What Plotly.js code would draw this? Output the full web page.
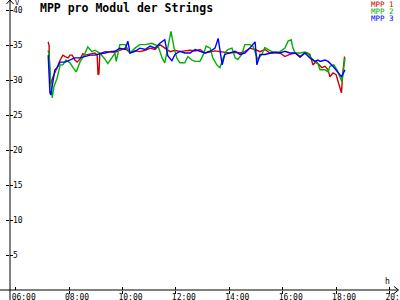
<!DOCTYPE html>
<html>
<head>
<meta charset="utf-8">
<script src="https://cdn.plot.ly/plotly-3.0.1.min.js"></script>
<style>html,body{margin:0;padding:0;background:#fff;}#chart{width:400px;height:300px;}</style>
</head>
<body>
<div id="chart"></div>
<script>
const seriesNames = ["MPP 1", "MPP 2", "MPP 3"];
const seriesColors = ["#cc0000", "#00b000", "#0000ff"];

const times1 = ["07:13","07:15","07:17","07:19","07:24","07:28","07:33","07:40","07:46","07:51","07:58","08:02","08:07","08:13","08:18","08:25","08:31","08:36","08:47","08:58","09:03","09:05","09:07","09:09","09:21","09:32","09:43","09:54","10:06","10:17","10:28","10:39","10:51","11:02","11:13","11:24","11:35","11:47","11:58","12:09","12:20","12:32","12:43","12:54","13:05","13:17","13:28","13:39","13:50","14:01","14:13","14:24","14:35","14:46","14:58","15:09","15:20","15:31","15:43","15:54","16:05","16:16","16:28","16:39","16:50","17:01","17:08","17:15","17:19","17:28","17:35","17:42","17:46","17:53","18:00","18:09","18:12","18:15","18:19"];
const mpp1 = [35.5,35.0,29.8,29.5,30.5,31.0,31.8,32.9,33.6,33.4,33.2,33.6,33.6,32.9,32.6,33.1,33.8,33.6,33.8,33.9,33.6,30.8,30.9,33.8,34.1,34.1,34.0,34.3,34.6,33.9,34.2,34.1,34.3,34.6,34.4,35.1,34.6,34.1,34.3,34.1,34.2,34.3,34.2,34.4,33.9,34.1,34.2,34.1,34.0,33.9,34.0,33.9,34.1,34.6,34.4,34.1,34.4,33.9,33.9,33.9,33.4,33.7,33.9,33.3,33.9,33.7,32.2,32.7,32.4,31.8,32.0,31.5,30.5,31.05,30.8,29.1,28.2,31.0,33.4];

const times2 = ["07:13","07:15","07:19","07:22","07:26","07:33","07:40","07:46","07:53","08:02","08:09","08:16","08:25","08:34","08:42","08:51","08:58","09:09","09:21","09:27","09:36","09:43","09:46","09:54","10:06","10:17","10:28","10:39","10:51","11:06","11:20","11:29","11:35","11:42","11:49","11:56","12:02","12:09","12:20","12:27","12:36","12:43","12:54","13:01","13:08","13:17","13:23","13:32","13:39","13:46","13:53","13:57","14:06","14:13","14:19","14:28","14:35","14:46","14:53","15:00","15:04","15:13","15:20","15:27","15:31","15:43","15:54","16:05","16:12","16:19","16:23","16:28","16:39","16:50","16:57","17:01","17:08","17:15","17:19","17:24","17:35","17:42","17:46","17:55","18:02","18:09","18:13","18:18","18:20"];
const mpp2 = [34.3,33.6,29.5,27.5,29.1,30.3,32.2,32.2,32.9,32.5,31.8,31.2,32.7,33.6,34.8,34.1,34.3,33.9,33.0,32.4,33.2,33.9,32.7,35.1,35.1,33.9,34.6,35.1,35.1,35.3,34.9,33.2,32.5,34.6,37.0,34.6,33.2,32.5,32.5,33.4,32.9,32.7,32.7,33.6,34.9,34.6,33.2,32.2,31.8,33.2,34.15,34.4,34.6,33.2,32.95,33.7,35.1,35.1,34.9,33.7,32.95,33.7,34.7,34.4,34.3,33.9,34.1,34.6,35.6,35.8,34.6,33.9,33.9,34.05,33.9,33.4,32.95,32.5,32.4,31.5,31.5,31.2,32.0,32.2,31.5,30.5,29.8,32.2,33.2];

const times3 = ["07:13","07:17","07:19","07:24","07:28","07:33","07:40","07:51","08:02","08:13","08:25","08:40","08:47","08:58","09:09","09:21","09:32","09:43","09:54","10:06","10:12","10:17","10:28","10:39","10:51","11:02","11:13","11:24","11:35","11:42","11:51","11:58","12:09","12:20","12:32","12:43","12:54","13:05","13:17","13:28","13:35","13:39","13:44","13:50","14:01","14:13","14:24","14:35","14:46","14:58","15:02","15:09","15:20","15:31","15:43","15:54","16:05","16:16","16:28","16:39","16:50","17:01","17:13","17:19","17:24","17:35","17:42","17:53","18:04","18:12","18:20"];
const mpp3 = [33.6,28.2,27.9,30.3,31.5,31.8,32.6,32.6,32.9,33.2,33.2,33.4,33.6,33.6,33.8,33.9,34.1,34.15,34.6,34.4,35.6,33.9,34.15,34.6,34.4,34.9,34.6,35.3,35.8,33.5,32.8,33.7,34.15,33.9,33.9,34.4,34.15,33.9,34.15,34.6,36.0,34.15,32.2,33.7,33.9,34.15,33.7,33.9,34.6,35.5,32.2,33.7,33.7,33.9,34.05,33.9,34.15,33.9,33.9,33.4,33.9,33.2,32.7,32.9,32.7,32.9,32.7,32.0,31.2,30.5,31.5];

const xTickHours = [6, 8, 10, 12, 14, 16, 18, 20];
const xTickLabels = ["06:00","08:00","10:00","12:00","14:00","16:00","18:00","20:00"];
const yTickVals = [5, 10, 15, 20, 25, 30, 35, 40];

function toHours(s) { const p = s.split(":"); return Number(p[0]) + Number(p[1]) / 60; }

const W = 400, H = 300, M = {l: 10, r: 2, t: 2, b: 10};
const PW = W - M.l - M.r, PH = H - M.t - M.b;
const px = X => (X - M.l) / PW;
const py = Y => (H - M.b - Y) / PH;

const mono = "DejaVu Sans Mono, Liberation Mono, monospace";
const xRange = [5.787, 20.318];
const yRange = [0, 41.2];

const allTimes = [times1, times2, times3];
const allVals = [mpp1, mpp2, mpp3];
const traces = allVals.map((v, i) => ({
  type: "scatter", mode: "lines",
  x: allTimes[i].map(toHours), y: v,
  name: seriesNames[i],
  line: {color: seriesColors[i], width: 1.4},
  showlegend: false, hoverinfo: "skip"
}));
traces.push({type: "scatter", mode: "lines", x: [], y: [], xaxis: "x2", yaxis: "y2", showlegend: false});

const blk = {color: "#000", width: 1};
const shapes = [
  {type: "line", xref: "paper", yref: "paper", x0: px(0), x1: px(398), y0: py(290), y1: py(290), line: blk},
  {type: "line", xref: "paper", yref: "paper", x0: px(10), x1: px(10), y0: py(300), y1: py(0), line: blk},
  {type: "line", xref: "paper", yref: "paper", x0: px(394), x1: px(398.5), y0: py(286.5), y1: py(290), line: blk},
  {type: "line", xref: "paper", yref: "paper", x0: px(394), x1: px(398.5), y0: py(293.5), y1: py(290), line: blk},
  {type: "line", xref: "paper", yref: "paper", x0: px(6.5), x1: px(10), y0: py(4), y1: py(0), line: blk},
  {type: "line", xref: "paper", yref: "paper", x0: px(13.5), x1: px(10), y0: py(4), y1: py(0), line: blk}
];

const annotations = seriesNames.map((n, i) => ({
  xref: "paper", yref: "paper", x: px(395), y: py(4.5 + 7 * i),
  xanchor: "right", yanchor: "middle", showarrow: false, borderpad: 0,
  text: n, font: {family: mono, size: 7.5, color: seriesColors[i]}
}));
annotations.push({xref: "paper", yref: "paper", x: px(17), y: py(3), xanchor: "center", yanchor: "middle", showarrow: false, text: "V", font: {family: mono, size: 7, color: "#000"}});
annotations.push({xref: "paper", yref: "paper", x: px(387), y: py(281), xanchor: "center", yanchor: "middle", showarrow: false, text: "h", font: {family: mono, size: 8, color: "#000"}});

const axBase = {showgrid: false, zeroline: false, showline: false, tickcolor: "#000", tickwidth: 1, fixedrange: true};
const layout = {
  width: W, height: H, margin: M,
  paper_bgcolor: "#fff", plot_bgcolor: "#fff",
  showlegend: false,
  title: {text: "<b>MPP pro Modul der Strings</b>", x: 40 / W, xref: "container", xanchor: "left", y: 1 - 8 / H, yref: "container", yanchor: "middle", font: {family: mono, size: 11.5, color: "#000"}},
  xaxis: Object.assign({}, axBase, {range: xRange, tickmode: "array", tickvals: xTickHours, ticks: "outside", ticklen: 3, showticklabels: false}),
  yaxis: Object.assign({}, axBase, {range: yRange, tickmode: "array", tickvals: yTickVals, ticks: "outside", ticklen: 3, ticklabelposition: "inside", tickfont: {family: mono, size: 8, color: "#000"}}),
  xaxis2: Object.assign({}, axBase, {range: xRange, overlaying: "x", anchor: "y2", side: "bottom", tickmode: "array", tickvals: xTickHours, ticktext: xTickLabels, ticks: "inside", ticklen: 3, tickfont: {family: mono, size: 8, color: "#000"}, ticklabelshift: 8, ticklabelstandoff: 1, ticklabeloverflow: "allow"}),
  yaxis2: Object.assign({}, axBase, {range: yRange, overlaying: "y", anchor: "x2", side: "left", tickmode: "array", tickvals: yTickVals, ticks: "inside", ticklen: 3, showticklabels: false}),
  shapes: shapes,
  annotations: annotations
};
Plotly.newPlot("chart", traces, layout, {staticPlot: true, displayModeBar: false});
</script>
</body>
</html>
